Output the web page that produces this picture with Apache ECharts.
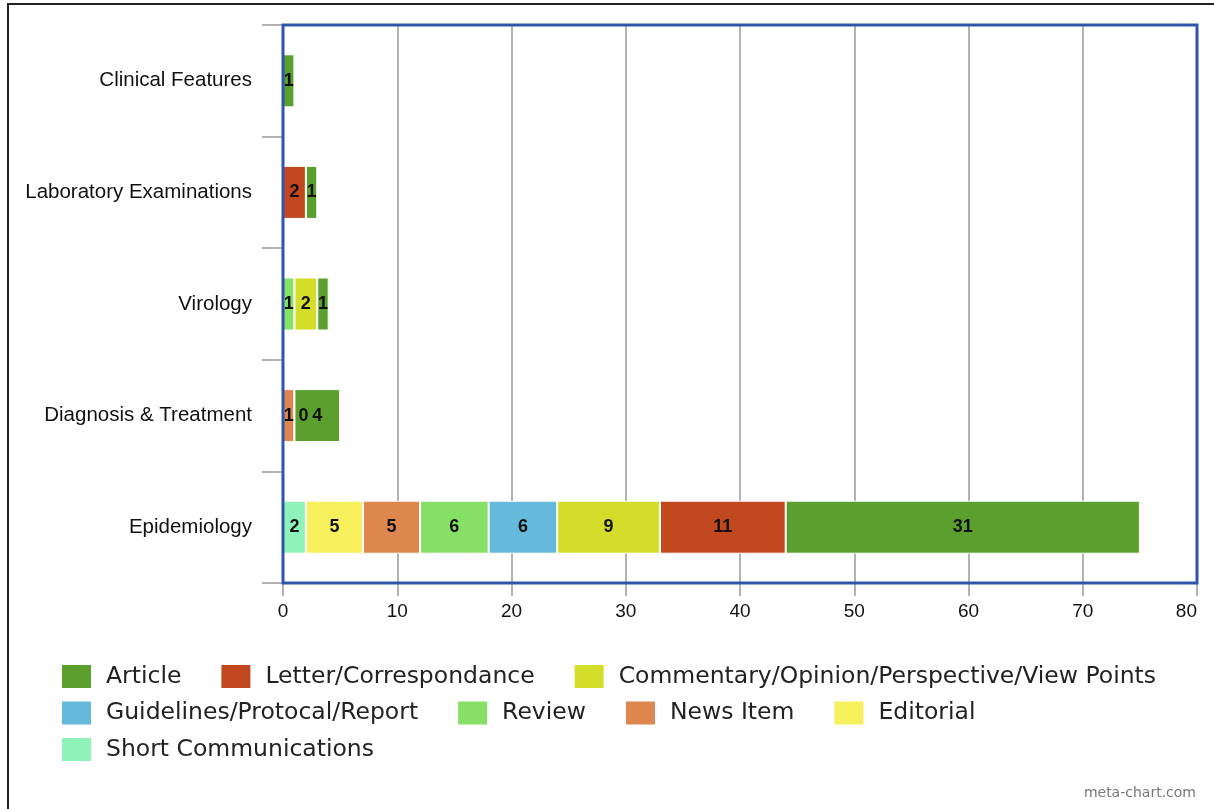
<!DOCTYPE html>
<html>
<head>
<meta charset="utf-8">
<style>
  html, body { margin: 0; padding: 0; background: #fff; }
  #chart { width: 1214px; height: 809px; }
</style>
<script src="https://cdn.jsdelivr.net/npm/echarts@6/dist/echarts.min.js"></script>
</head>
<body>
<div id="chart"></div>
<script>
// Topics (bottom to top on the category axis)
const categories = ['Epidemiology', 'Diagnosis & Treatment', 'Virology', 'Laboratory Examinations', 'Clinical Features'];

// Article counts per publication type, in the same order as categories
const shortCommunications = [2, 0, 0, 0, 0];
const editorial           = [5, 0, 0, 0, 0];
const newsItem            = [5, 1, 0, 0, 0];
const review              = [6, 0, 1, 0, 0];
const guidelines          = [6, 0, 0, 0, 0];
const commentary          = [9, 0, 2, 0, 0];
const letter              = [11, 0, 0, 2, 0];
const article             = [31, 4, 1, 1, 1];

// Cells whose value is printed even though it is zero
const zeroShown = {
  'Commentary/Opinion/Perspective/View Points': [false, true, false, false, false]
};

const xTicks = [0, 10, 20, 30, 40, 50, 60, 70, 80];

const seriesDefs = [
  { name: 'Short Communications', data: shortCommunications, color: '#8ff2b9' },
  { name: 'Editorial', data: editorial, color: '#f6f05c' },
  { name: 'News Item', data: newsItem, color: '#de8650' },
  { name: 'Review', data: review, color: '#86e066' },
  { name: 'Guidelines/Protocal/Report', data: guidelines, color: '#65b9da' },
  { name: 'Commentary/Opinion/Perspective/View Points', data: commentary, color: '#d4de2a' },
  { name: 'Letter/Correspondance', data: letter, color: '#c1471f' },
  { name: 'Article', data: article, color: '#5b9f2f' }
];

const legendRows = [
  ['Article', 'Letter/Correspondance', 'Commentary/Opinion/Perspective/View Points'],
  ['Guidelines/Protocal/Report', 'Review', 'News Item', 'Editorial'],
  ['Short Communications']
];

const chart = echarts.init(document.getElementById('chart'), null, { renderer: 'canvas' });

const series = seriesDefs.map(def => {
  const zs = zeroShown[def.name];
  return {
    name: def.name,
    type: 'bar',
    stack: 'total',
    barWidth: 53,
    itemStyle: { color: def.color, borderColor: '#ffffff', borderWidth: 1 },
    label: {
      show: true,
      position: 'inside',
      color: '#111',
      fontWeight: 'bold',
      fontSize: 18,
      fontFamily: 'Liberation Sans, Arial, sans-serif'
    },
    data: def.data.map((v, i) => {
      if (v > 0) return v;
      if (zs && zs[i]) return { value: v, label: { show: true, offset: [9, 0] } };
      return { value: v, label: { show: false } };
    })
  };
});

const legendFont = 'DejaVu Sans, Verdana, sans-serif';
const legends = legendRows.map((row, r) => ({
  data: row,
  left: 60,
  top: 663 + r * 36.5,
  orient: 'horizontal',
  padding: 0,
  itemWidth: 31,
  itemHeight: 25,
  itemGap: 38,
  icon: 'rect',
  selectedMode: false,
  textStyle: {
    fontFamily: legendFont,
    fontSize: 23.5,
    color: '#222',
    padding: [0, 0, 0, 9]
  }
}));

chart.setOption({
  animation: false,
  backgroundColor: '#ffffff',
  grid: {
    left: 283, top: 25, right: 17, bottom: 226,
    show: false
  },
  legend: legends,
  xAxis: {
    type: 'value',
    min: xTicks[0],
    max: xTicks[xTicks.length - 1],
    interval: 10,
    axisLine: { show: false },
    axisTick: { show: true, length: 13, lineStyle: { color: '#b3b3b3', width: 2 } },
    splitLine: { show: true, showMinLine: false, showMaxLine: false, lineStyle: { color: '#b3b3b3', width: 2 } },
    axisLabel: {
      margin: 19,
      fontSize: 19,
      color: '#111',
      fontFamily: 'Liberation Sans, Arial, sans-serif',
      alignMaxLabel: 'right'
    }
  },
  yAxis: {
    type: 'category',
    data: categories,
    axisLine: { show: false },
    axisTick: { show: true, length: 21, lineStyle: { color: '#b3b3b3', width: 2 } },
    splitLine: { show: false },
    axisLabel: {
      margin: 31,
      fontSize: 20.5,
      color: '#111',
      fontFamily: 'Liberation Sans, Arial, sans-serif'
    }
  },
  series: series,
  graphic: [
    {
      // plot frame drawn over the bars
      type: 'rect',
      shape: { x: 283, y: 25, width: 914, height: 558 },
      style: { fill: 'none', stroke: '#2f56aa', lineWidth: 3 },
      silent: true,
      z: 100
    },
    {
      type: 'rect',
      shape: { x: 8, y: 4, width: 1300, height: 900 },
      style: { fill: 'none', stroke: '#222', lineWidth: 2 },
      silent: true,
      z: 100
    },
    {
      type: 'text',
      right: 18,
      top: 786,
      style: {
        text: 'meta-chart.com',
        fill: '#777',
        fontSize: 14,
        fontFamily: 'DejaVu Sans, sans-serif'
      },
      silent: true
    }
  ]
});
</script>
</body>
</html>
